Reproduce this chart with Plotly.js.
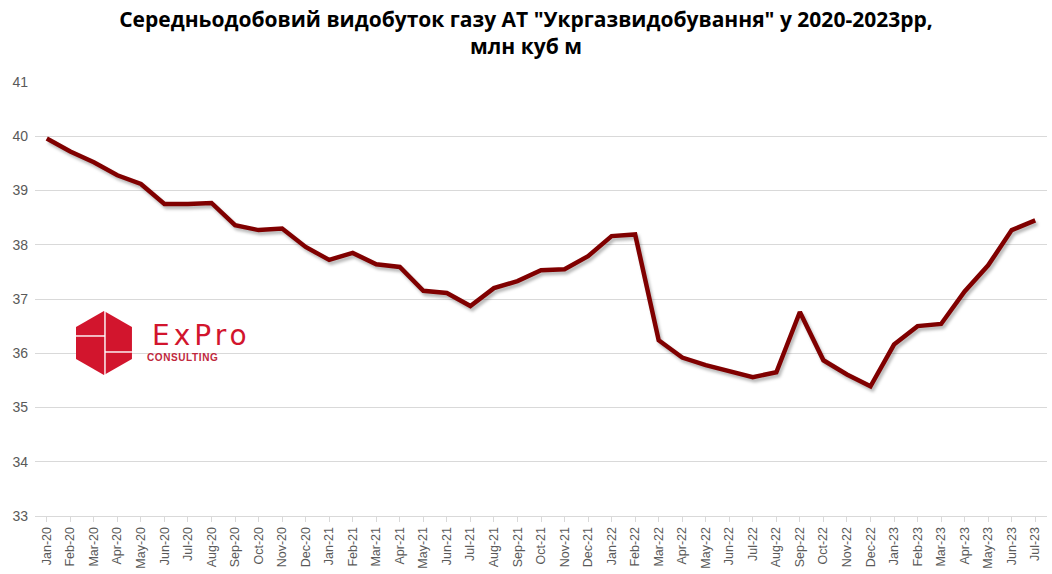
<!DOCTYPE html>
<html>
<head>
<meta charset="utf-8">
<script src="https://cdn.plot.ly/plotly-3.0.1.min.js"></script>
<style>
html,body{margin:0;padding:0;background:#fff;}
#chart{width:1052px;height:574px;}
.scatterlayer .trace path.js-line{filter:drop-shadow(2px 3px 1.5px rgba(0,0,0,0.28));}
.annotation[data-index="0"] text{letter-spacing:4px;}
.annotation[data-index="1"] text{letter-spacing:0.6px;}
</style>
</head>
<body>
<div id="chart"></div>
<script>
const months = ["Jan-20","Feb-20","Mar-20","Apr-20","May-20","Jun-20","Jul-20","Aug-20","Sep-20","Oct-20","Nov-20","Dec-20",
"Jan-21","Feb-21","Mar-21","Apr-21","May-21","Jun-21","Jul-21","Aug-21","Sep-21","Oct-21","Nov-21","Dec-21",
"Jan-22","Feb-22","Mar-22","Apr-22","May-22","Jun-22","Jul-22","Aug-22","Sep-22","Oct-22","Nov-22","Dec-22",
"Jan-23","Feb-23","Mar-23","Apr-23","May-23","Jun-23","Jul-23"];
const production = [39.96,39.72,39.52,39.28,39.12,38.75,38.75,38.77,38.36,38.27,38.30,37.96,
37.72,37.85,37.64,37.59,37.15,37.11,36.87,37.20,37.33,37.53,37.55,37.79,
38.16,38.19,36.24,35.92,35.78,35.67,35.56,35.65,36.76,35.87,35.61,35.39,
36.16,36.50,36.54,37.14,37.62,38.27,38.45];
const yTicks = [33,34,35,36,37,38,39,40,41];
const titleText = 'Середньодобовий видобуток газу АТ "Укргазвидобування" у 2020-2023рр,<br>млн куб м';

const hexSvg = '<svg xmlns="http://www.w3.org/2000/svg" viewBox="0 0 56 64" width="56" height="64">' +
 '<polygon points="28,0 56,16 56,48 28,64 0,48 0,16" fill="#d2152d"/>' +
 '<line x1="29" y1="0" x2="29" y2="64" stroke="#fff" stroke-width="1.4"/>' +
 '<line x1="0" y1="25" x2="29" y2="25" stroke="#fff" stroke-width="1.4"/>' +
 '<line x1="29" y1="41" x2="56" y2="41" stroke="#fff" stroke-width="1.4"/></svg>';
const hexUri = 'data:image/svg+xml;base64,' + btoa(hexSvg);

const trace = {
  x: months.map((m,i)=>i),
  y: production,
  type: 'scatter',
  mode: 'lines',
  line: {color:'#800000', width:4.5},
  hoverinfo: 'x+y'
};

const layout = {
  width: 1052, height: 574,
  margin: {l:35, r:5, t:82, b:58},
  paper_bgcolor:'#fff', plot_bgcolor:'#fff',
  showlegend:false,
  title: {
    text: titleText,
    font: {family:'Open Sans, sans-serif', size:21, color:'#000', weight:'bold'},
    x: 0.5, xanchor:'center', y: 0.953, yanchor:'middle', yref:'container'
  },
  xaxis: {
    range:[-0.5, months.length-0.5],
    tickmode:'array', tickvals: months.map((m,i)=>i), ticktext: months,
    tickangle:-90,
    tickfont:{family:'Liberation Sans, Arial, sans-serif', size:12.5, color:'#595959'},
    showgrid:false, zeroline:false,
    showline:true, linecolor:'#d9d9d9', linewidth:1,
    ticks:'outside', ticklen:5, tickcolor:'#d9d9d9', tickson:'boundaries'
  },
  yaxis: {
    range:[33, 41],
    tickmode:'array', tickvals: yTicks, ticktext: yTicks.map(String),
    tickfont:{family:'Liberation Sans, Arial, sans-serif', size:14, color:'#595959'},
    showgrid:true, gridcolor:'#d9d9d9', gridwidth:1,
    zeroline:false, showline:false, ticks:'', ticklabelstandoff:6
  },
  images: [{
    source: hexUri, xref:'paper', yref:'paper',
    x: 0.0405, y: 0.4724, sizex: 0.0553, sizey: 0.1475,
    sizing:'stretch', xanchor:'left', yanchor:'top', layer:'above'
  }],
  annotations: [
    {text:'ExPro', xref:'paper', yref:'paper', x:0.1645, y:0.417, xanchor:'center', yanchor:'middle',
     showarrow:false, font:{family:'DejaVu Sans, sans-serif', size:28, color:'#d2152d'}},
    {text:'CONSULTING', xref:'paper', yref:'paper', x:0.1117, y:0.366, xanchor:'left', yanchor:'middle',
     showarrow:false, font:{family:'Liberation Sans, Arial, sans-serif', size:10, color:'#c0283c', weight:'bold'}}
  ]
};

Plotly.newPlot('chart', [trace], layout, {displayModeBar:false, staticPlot:true});
</script>
</body>
</html>
